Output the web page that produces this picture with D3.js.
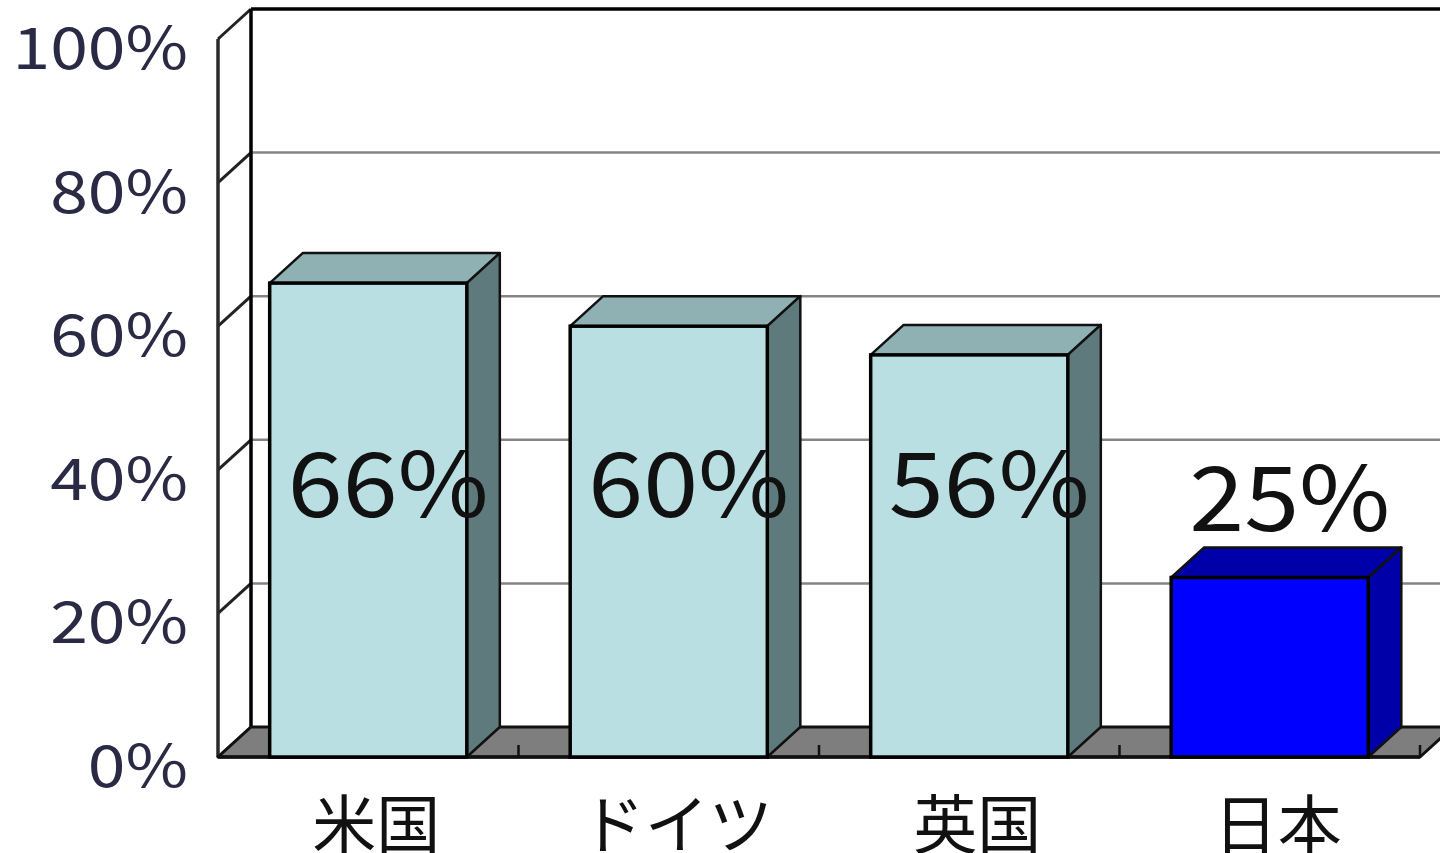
<!DOCTYPE html>
<html>
<head>
<meta charset="utf-8">
<script src="https://cdn.jsdelivr.net/npm/d3@7"></script>
<style>
  body { margin: 0; background: #fff; overflow: hidden; }
  svg { display: block; }
</style>
</head>
<body>
<div id="chart"></div>
<script>
var categories = ["米国", "ドイツ", "英国", "日本"];
var values = [0.66, 0.60, 0.56, 0.25];
var valueLabels = ["66%", "60%", "56%", "25%"];
var yTicks = [0, 0.2, 0.4, 0.6, 0.8, 1.0];
var yTickLabels = ["0%", "20%", "40%", "60%", "80%", "100%"];

var W = 1440, H = 853;
var dx = 33, dy = -30;   // 3d depth offset

var svg = d3.select("#chart")
	.append("svg")
	.attr("width", W)
	.attr("height", H);

var x = d3.scaleBand()
	.domain(categories)
	.range([218, 1420])
	.paddingInner(0.344)
	.paddingOuter(0.172);

var y = d3.scaleLinear()
	.domain([0, 1])
	.range([757, 39]);

var x0 = x.range()[0], x1 = x.range()[1];
function pts(a) { return a.map(function(p) { return p.join(","); }).join(" "); }

// back wall
svg.append("polygon")
	.attr("points", pts([[x0 + dx, y(1) + dy], [x1 + dx, y(1) + dy], [x1 + dx, y(0) + dy], [x0 + dx, y(0) + dy]]))
	.style("fill", "#fff");

// gridlines on back wall
svg.selectAll(".grid")
	.data(yTicks.filter(function(d) { return d > 0 && d < 1; }))
	.enter().append("line")
	.attr("class", "grid")
	.attr("x1", x0 + dx).attr("x2", x1 + dx)
	.attr("y1", function(d) { return y(d) + dy; })
	.attr("y2", function(d) { return y(d) + dy; })
	.style("stroke", "#858585")
	.style("stroke-width", 2.5);

// top border of back wall
svg.append("line")
	.attr("x1", x0 + dx).attr("x2", x1 + dx)
	.attr("y1", y(1) + dy).attr("y2", y(1) + dy)
	.style("stroke", "#000").style("stroke-width", 3.5);

// left side wall
svg.append("polygon")
	.attr("points", pts([[x0, y(1)], [x0 + dx, y(1) + dy], [x0 + dx, y(0) + dy], [x0, y(0)]]))
	.style("fill", "#fff");

svg.selectAll(".diag")
	.data(yTicks)
	.enter().append("line")
	.attr("class", "diag")
	.attr("x1", x0).attr("y1", function(d) { return y(d); })
	.attr("x2", x0 + dx).attr("y2", function(d) { return y(d) + dy; })
	.style("stroke", "#222")
	.style("stroke-width", 3);

svg.append("line")
	.attr("x1", x0 + dx).attr("x2", x0 + dx)
	.attr("y1", y(1) + dy).attr("y2", y(0) + dy)
	.style("stroke", "#000").style("stroke-width", 3.5);

svg.append("line")
	.attr("x1", x0).attr("x2", x0)
	.attr("y1", y(1)).attr("y2", y(0))
	.style("stroke", "#2a2a2a").style("stroke-width", 3.5);

// floor
svg.append("polygon")
	.attr("points", pts([[x0, y(0)], [x0 + dx, y(0) + dy], [x1 + dx, y(0) + dy], [x1, y(0)]]))
	.style("fill", "#7e7e7e")
	.style("stroke", "#111")
	.style("stroke-width", 3)
	.style("stroke-linejoin", "round");

svg.append("line")
	.attr("x1", x0).attr("x2", x1)
	.attr("y1", y(0)).attr("y2", y(0))
	.style("stroke", "#111").style("stroke-width", 3.5);

// category ticks on floor edge
svg.selectAll(".ctick")
	.data(categories)
	.enter().append("line")
	.attr("class", "ctick")
	.attr("x1", function(d) { return x(d) + x.bandwidth() + x.step() * x.paddingInner() / 2; })
	.attr("x2", function(d) { return x(d) + x.bandwidth() + x.step() * x.paddingInner() / 2; })
	.attr("y1", y(0) - 12).attr("y2", y(0))
	.style("stroke", "#111").style("stroke-width", 2.5);

// bars
var bar = svg.selectAll(".bar")
	.data(categories)
	.enter().append("g")
	.attr("class", "bar");

function isJapan(i) { return i === 3; }

bar.append("polygon")  // top face
	.attr("points", function(d, i) {
		var l = x(d), r = x(d) + x.bandwidth(), t = y(values[i]);
		return pts([[l, t], [l + dx, t + dy], [r + dx, t + dy], [r, t]]);
	})
	.style("fill", function(d, i) { return isJapan(i) ? "#0000aa" : "#8fb1b4"; })
	.style("stroke", "#111").style("stroke-width", 2.5).style("stroke-linejoin", "round");

bar.append("polygon")  // side face
	.attr("points", function(d, i) {
		var r = x(d) + x.bandwidth(), t = y(values[i]), b = y(0);
		return pts([[r, t], [r + dx, t + dy], [r + dx, b + dy], [r, b]]);
	})
	.style("fill", function(d, i) { return isJapan(i) ? "#0000a8" : "#5f7a7c"; })
	.style("stroke", "#111").style("stroke-width", 2.5).style("stroke-linejoin", "round");

bar.append("rect")  // front face
	.attr("x", function(d) { return x(d); })
	.attr("y", function(d, i) { return y(values[i]); })
	.attr("width", x.bandwidth())
	.attr("height", function(d, i) { return y(0) - y(values[i]); })
	.style("fill", function(d, i) { return isJapan(i) ? "#0000ff" : "#b9dfe2"; })
	.style("stroke", "#000").style("stroke-width", 3.5);

// value labels
svg.selectAll(".vlabel")
	.data(categories)
	.enter().append("text")
	.attr("class", "vlabel")
	.attr("transform", function(d, i) {
		var tx = x(d) + x.bandwidth() / 2 + 20;
		var ty = y(0.37) + 26 + (values[i] < 0.5 ? 14 : 0);
		return "translate(" + tx + "," + ty + ") scale(1.1,1)";
	})
	.attr("text-anchor", "middle")
	.style("font-family", "'Noto Sans CJK JP', 'Noto Sans', sans-serif")
	.style("font-size", "90px")
	.style("fill", "#111")
	.text(function(d, i) { return valueLabels[i]; });

// y axis labels
svg.selectAll(".ylabel")
	.data(yTicks)
	.enter().append("text")
	.attr("class", "ylabel")
	.attr("transform", function(d) { return "translate(188," + (y(d) + 30) + ") scale(1.17,1)"; })
	.attr("text-anchor", "end")
	.style("font-family", "'Noto Sans CJK JP', 'Noto Sans', sans-serif")
	.style("font-size", "58px")
	.style("fill", "#2a2a44")
	.text(function(d, i) { return yTickLabels[i]; });

// category labels
svg.selectAll(".xlabel")
	.data(categories)
	.enter().append("text")
	.attr("class", "xlabel")
	.attr("x", function(d) { return x(d) + x.bandwidth() / 2 + 8; })
	.attr("y", 848)
	.attr("text-anchor", "middle")
	.style("font-family", "'Noto Sans CJK JP', sans-serif")
	.style("font-size", "64px")
	.style("fill", "#111")
	.text(function(d) { return d; });
</script>
</body>
</html>
